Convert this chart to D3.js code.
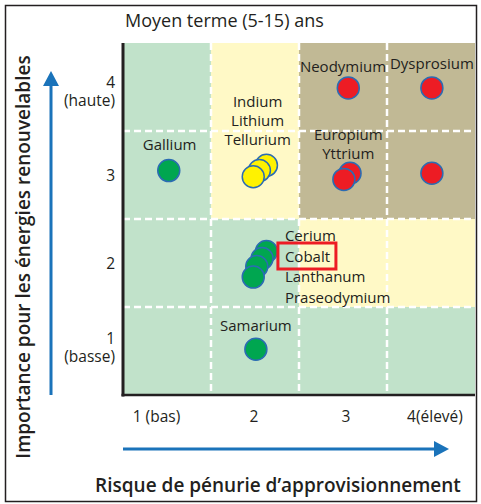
<!DOCTYPE html>
<html>
<head>
<meta charset="utf-8">
<script src="https://cdn.jsdelivr.net/npm/d3@7"></script>
<style>
  body { margin: 0; background: #fff; }
  text { font-family: "Open Sans", "Noto Sans", sans-serif; fill: #231f20; }
</style>
</head>
<body>
<svg id="chart" width="481" height="504"></svg>
<script>
// risk (x) and importance (y) levels
const levels = [1, 2, 3, 4];
const xTickLabels = ["1 (bas)", "2", "3", "4(élevé)"];
const yTickLabels = [["1", "(basse)"], ["2"], ["3"], ["4", "(haute)"]];

// background zone per cell
const zoneRows = [
    { y: 4, zones: ["green", "yellow", "brown", "brown"] },
    { y: 3, zones: ["green", "yellow", "brown", "brown"] },
    { y: 2, zones: ["green", "green", "yellow", "yellow"] },
    { y: 1, zones: ["green", "green", "green", "green"] }
];

// elements
const elemNames = ["Neodymium", "Dysprosium", "Gallium", "Indium", "Lithium", "Tellurium",
    "Europium", "Yttrium", "Dy-3", "Cerium", "Cobalt", "Lanthanum", "Praseodymium", "Samarium"];
const elemRisk = [3.06, 4.01, 1.02, 2.13, 2.05, 1.98, 3.08, 3.01, 4.01, 2.13, 2.08, 2.02, 1.98, 2.01];
const elemImportance = [3.99, 3.99, 3.05, 3.11, 3.05, 2.98, 3.02, 2.95, 3.02, 2.13, 2.05, 1.96, 1.84, 1.02];
const elemZone = ["brown", "brown", "green", "yellow", "yellow", "yellow", "brown", "brown", "brown",
    "green", "green", "green", "green", "green"];

// label blocks: text lines, anchor (data units)
const labelBlocks = [
    { lines: ["Neodymium"], x: 3.0, y: 4.17, anchor: "middle" },
    { lines: ["Dysprosium"], x: 4.01, y: 4.20, anchor: "middle" },
    { lines: ["Gallium"], x: 1.03, y: 3.28, anchor: "middle" },
    { lines: ["Indium", "Lithium", "Tellurium"], x: 2.03, y: 3.77, anchor: "middle" },
    { lines: ["Europium", "Yttrium"], x: 3.06, y: 3.40, anchor: "middle" },
    { lines: ["Cerium", "Cobalt", "Lanthanum", "Praseodymium"], x: 2.34, y: 2.25, anchor: "start" },
    { lines: ["Samarium"], x: 2.01, y: 1.23, anchor: "middle" }
];

const zoneFill = { green: "#c1e2ca", yellow: "#fff9c6", brown: "#c1b995" };
const dotFill = { green: "#00a650", yellow: "#fff200", brown: "#ed1c24" };

const svg = d3.select("#chart");
const margin = { left: 123, top: 43, right: 6, bottom: 109 };
const width = 481 - margin.left - margin.right;
const height = 504 - margin.top - margin.bottom;

const x = d3.scaleLinear().domain([0.5, 4.5]).range([0, width]);
const y = d3.scaleLinear().domain([0.5, 4.5]).range([height, 0]);
const cell = x(1.5) - x(0.5);

// outer frame
svg.append("rect")
    .attr("x", 5.5).attr("y", 5.5)
    .attr("width", 471).attr("height", 496)
    .attr("fill", "none")
    .attr("stroke", "#231f20")
    .attr("stroke-width", 1.5);

svg.append("text")
    .attr("x", 125).attr("y", 27)
    .style("font-size", "18px")
    .text("Moyen terme (5-15) ans");

const g = svg.append("g").attr("transform", `translate(${margin.left},${margin.top})`);

// zones
zoneRows.forEach(row => {
    g.selectAll(null)
        .data(row.zones)
        .enter().append("rect")
        .attr("x", (d, i) => x(levels[i] - 0.5))
        .attr("y", y(row.y + 0.5))
        .attr("width", cell)
        .attr("height", cell)
        .attr("fill", d => zoneFill[d]);
});

// dashed grid
g.selectAll(".vgrid")
    .data([1.5, 2.5, 3.5])
    .enter().append("line")
    .attr("x1", d => x(d)).attr("x2", d => x(d))
    .attr("y1", 0).attr("y2", height)
    .attr("stroke", "#fff").attr("stroke-width", 2.5)
    .attr("stroke-dasharray", "7,4");

g.selectAll(".hgrid")
    .data([1.5, 2.5, 3.5])
    .enter().append("line")
    .attr("x1", 0).attr("x2", width)
    .attr("y1", d => y(d)).attr("y2", d => y(d))
    .attr("stroke", "#fff").attr("stroke-width", 2.5)
    .attr("stroke-dasharray", "7,4");

// axes lines
g.append("line")
    .attr("x1", 0).attr("x2", 0).attr("y1", 0).attr("y2", height + 1.5)
    .attr("stroke", "#231f20").attr("stroke-width", 3);
g.append("line")
    .attr("x1", -1.5).attr("x2", width).attr("y1", height).attr("y2", height)
    .attr("stroke", "#231f20").attr("stroke-width", 2.5);

// x tick labels
g.selectAll(".xtick")
    .data(levels)
    .enter().append("text")
    .attr("x", (d, i) => x(d) + [-10.5, -1, 3, 4][i])
    .attr("y", height + 27)
    .attr("text-anchor", "middle")
    .style("font-size", "15.5px")
    .text((d, i) => xTickLabels[i]);

// y tick labels
const yTickShift = [-7, 6, 6, 1];
levels.forEach((lv, i) => {
    const lines = yTickLabels[i];
    const t = g.append("text")
        .attr("text-anchor", "end")
        .attr("x", -8)
        .attr("y", y(lv) + yTickShift[i])
        .style("font-size", "15.5px");
    lines.forEach((s, j) => {
        t.append("tspan").attr("x", -8).attr("dy", j ? 18 : 0).text(s);
    });
});

// element dots
const dots = elemNames.map((n, i) => ({ name: n, r: elemRisk[i], imp: elemImportance[i], zone: elemZone[i] }));
g.selectAll(".dot")
    .data(dots)
    .enter().append("circle")
    .attr("cx", d => x(d.r))
    .attr("cy", d => y(d.imp))
    .attr("r", 11)
    .attr("fill", d => dotFill[d.zone])
    .attr("stroke", "#2b6cb3")
    .attr("stroke-width", 1.5);

// labels
labelBlocks.forEach(b => {
    const t = g.append("text")
        .attr("text-anchor", b.anchor)
        .attr("y", y(b.y))
        .style("font-size", "15px");
    b.lines.forEach((s, j) => {
        t.append("tspan").attr("x", x(b.x)).attr("dy", j ? (b.lines.length === 4 ? 20.5 : 19) : 0).text(s);
    });
});

// Cobalt highlight box
const cobalt = labelBlocks[5];
g.append("rect")
    .attr("x", x(cobalt.x) - 7)
    .attr("y", y(cobalt.y) + 2)
    .attr("width", 58)
    .attr("height", 26)
    .attr("fill", "none")
    .attr("stroke", "#ed1c24")
    .attr("stroke-width", 3);

// arrows
const blue = "#1a73ba";
svg.append("line")
    .attr("x1", 51).attr("x2", 51).attr("y1", 395).attr("y2", 84)
    .attr("stroke", blue).attr("stroke-width", 3);
svg.append("path")
    .attr("d", "M51,71 L59,86 L43,86 Z")
    .attr("fill", blue);

svg.append("line")
    .attr("x1", 123).attr("x2", 436).attr("y1", 449).attr("y2", 449)
    .attr("stroke", blue).attr("stroke-width", 3);
svg.append("path")
    .attr("d", "M449,449 L434,441 L434,457 Z")
    .attr("fill", blue);

// axis titles
svg.append("text")
    .attr("transform", "translate(30,257) rotate(-90)")
    .attr("text-anchor", "middle")
    .style("font-size", "19px")
    .style("font-weight", 600)
    .text("Importance pour les énergies renouvelables");

svg.append("text")
    .attr("x", 278).attr("y", 492)
    .attr("text-anchor", "middle")
    .style("font-size", "19px")
    .style("font-weight", 600)
    .text("Risque de pénurie d’approvisionnement");
</script>
</body>
</html>
